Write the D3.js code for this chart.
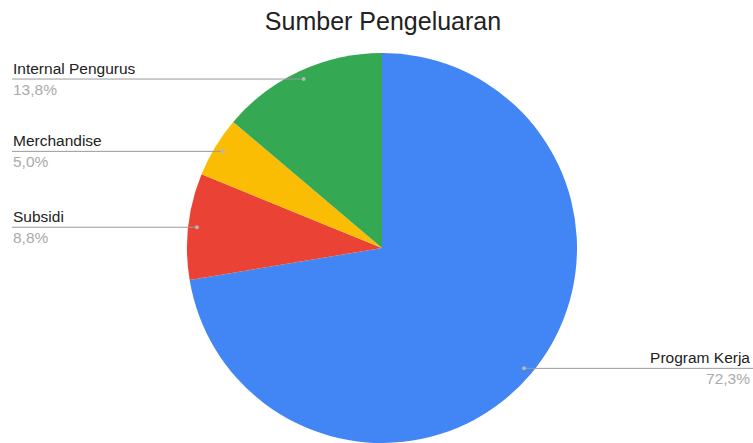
<!DOCTYPE html>
<html>
<head>
<meta charset="utf-8">
<script src="https://cdn.jsdelivr.net/npm/d3@7"></script>
<style>
  html, body { margin: 0; padding: 0; background: #fff; }
  svg { display: block; font-family: "Liberation Sans", Arial, sans-serif; }
</style>
</head>
<body>
<svg id="chart" width="753" height="443"></svg>
<script>
// Sumber Pengeluaran — pie with horizontal leader labels
const categories = ['Program Kerja', 'Subsidi', 'Merchandise', 'Internal Pengurus'];
const values = [72.3, 8.8, 5.0, 13.8];
const colors = ['#4285f4', '#ea4335', '#fbbc04', '#34a853'];

const width = 753, height = 443;
const cx = 382, cy = 248, radius = 195;

const svg = d3.select('#chart');

svg.append('text')
    .attr('x', 383)
    .attr('y', 30)
    .attr('text-anchor', 'middle')
    .attr('font-size', 25)
    .attr('fill', '#222')
    .text('Sumber Pengeluaran');

const data = categories.map((c, i) => ({ name: c, value: values[i], color: colors[i] }));
const pie = d3.pie().sort(null).value((d) => d.value);
const arcs = pie(data);
const arc = d3.arc().innerRadius(0).outerRadius(radius);

const g = svg.append('g').attr('transform', `translate(${cx},${cy})`);
g.selectAll('path')
    .data(arcs)
    .join('path')
    .attr('d', arc)
    .attr('fill', (d) => d.data.color);

const fmt = (v) => v.toFixed(1).replace('.', ',') + '%';
const labelR = radius * 0.955;

arcs.forEach((d) => {
    const mid = (d.startAngle + d.endAngle) / 2;
    const px = cx + Math.sin(mid) * labelR;
    const py = cy - Math.cos(mid) * labelR;
    const right = px > cx;
    const x0 = right ? 750 : 13;
    const anchor = right ? 'end' : 'start';

    svg.append('line')
        .attr('x1', px).attr('y1', py)
        .attr('x2', right ? 753 : 12).attr('y2', py)
        .attr('stroke', '#9a9a9a')
        .attr('stroke-width', 1);
    svg.append('circle')
        .attr('cx', px).attr('cy', py).attr('r', 2)
        .attr('fill', '#b5b5b5');
    svg.append('text')
        .attr('x', x0).attr('y', py - 5)
        .attr('text-anchor', anchor)
        .attr('font-size', 15.5)
        .attr('fill', '#222')
        .text(d.data.name);
    svg.append('text')
        .attr('x', x0).attr('y', py + 16)
        .attr('text-anchor', anchor)
        .attr('font-size', 15.5)
        .attr('fill', '#aaaaaa')
        .text(fmt(d.data.value));
});
</script>
</body>
</html>
